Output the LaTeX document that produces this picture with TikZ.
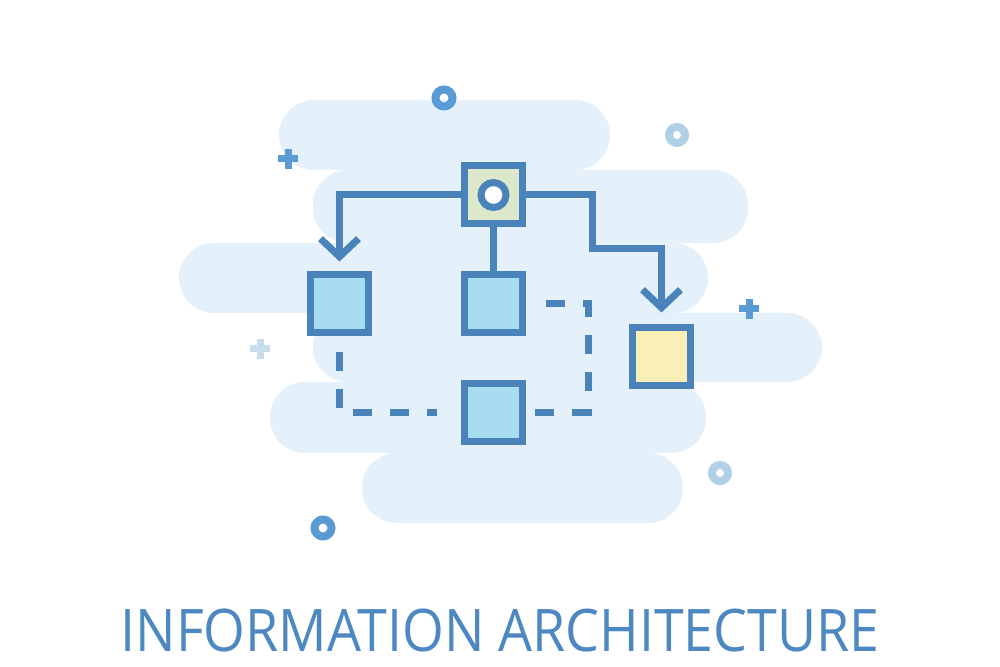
\documentclass[tikz,border=0pt]{standalone}
\usepackage{fontspec}
\setsansfont{Open Sans}
\usepackage{tikz}
\usetikzlibrary{arrows.meta}
\definecolor{cloud}{RGB}{228,241,251}
\definecolor{frame}{RGB}{74,130,186}
\definecolor{boxblue}{RGB}{168,220,240}
\definecolor{boxgreen}{RGB}{220,232,201}
\definecolor{boxyellow}{RGB}{248,239,185}
\definecolor{dotblue}{RGB}{91,155,213}
\definecolor{dotpale}{RGB}{176,208,230}
\definecolor{titleblue}{RGB}{77,136,194}

\begin{document}
\begin{tikzpicture}[x=0.1mm, y=-0.1mm,
		pill/.style = {fill = cloud, rounded corners = 3.5mm},
		sq/.style = {draw = frame, line width = 0.7mm, minimum size = 5.8mm, inner sep = 0pt},
		link/.style = {draw = frame, line width = 0.7mm},
		dashlink/.style = {link, dash pattern = on 1.9mm off 1.8mm},
		arr/.style = {link, -{Straight Barb[length = 1.8mm, width = 3.8mm]}},
		ring/.style = {line width = 0.8mm},
		plus/.style = {line width = 0.7mm}]
		\useasboundingbox (0,0) rectangle (1000,667);
		\fill[white] (0,0) rectangle (1000,667);
				\path[pill] (279,100) rectangle (610,170);
				\path[pill] (313,170) rectangle (748,243);
				\path[pill] (179,243) rectangle (708,313);
				\path[pill] (313,313) rectangle (822,382);
				\path[pill] (270,382) rectangle (706,453);
				\path[pill] (362,453) rectangle (683,523);
				\draw[ring, dotblue] (444,98) circle (0.85mm);
				\draw[ring, dotpale] (677,135) circle (0.8mm);
				\draw[ring, dotpale] (720,473) circle (0.8mm);
				\draw[ring, dotblue] (323,528) circle (0.85mm);
				\draw[plus, dotblue] (278,159)--(298,159) (288,149)--(288,169);
				\draw[plus, dotblue] (739,309)--(759,309) (749,299)--(749,319);
				\draw[plus, dotpale!70] (250,349)--(270,349) (260,339)--(260,359);
				\node[sq, fill = boxgreen] (root) at (493.5,195) {};
				\node[sq, fill = boxblue] (left) at (339.5,304) {};
				\node[sq, fill = boxblue] (mid) at (493.5,304) {};
				\node[sq, fill = boxyellow] (right) at (661.5,357) {};
				\node[sq, fill = boxblue] (bottom) at (493.5,412.5) {};
				\coordinate (bend) at (592,249);
				\coordinate (rdash) at (588,350);
				\draw[frame, line width = 0.7mm, fill = white] (root.center) circle (1.25mm);
				\path[arr, shorten > = 1mm] (root.west) -| (left.north);
				\path[arr, shorten > = 1.2mm] (root.east) -| (bend) -| (right.north);
				\path[link] (root.south) -- (mid.north);
				\path[dashlink, shorten < = 1.55mm, shorten > = 2.45mm] (left.south) |- (bottom.west);
				\path[dashlink, shorten < = 1.95mm, shorten > = 0.85mm] (mid.east) -| (rdash) |- (bottom.east);
				\node[text = titleblue, font = \sffamily\fontsize{16.7}{20}\selectfont, xscale = 0.915]
					(title) at (500,631) {INFORMATION ARCHITECTURE};
	\end{tikzpicture}
\end{document}
